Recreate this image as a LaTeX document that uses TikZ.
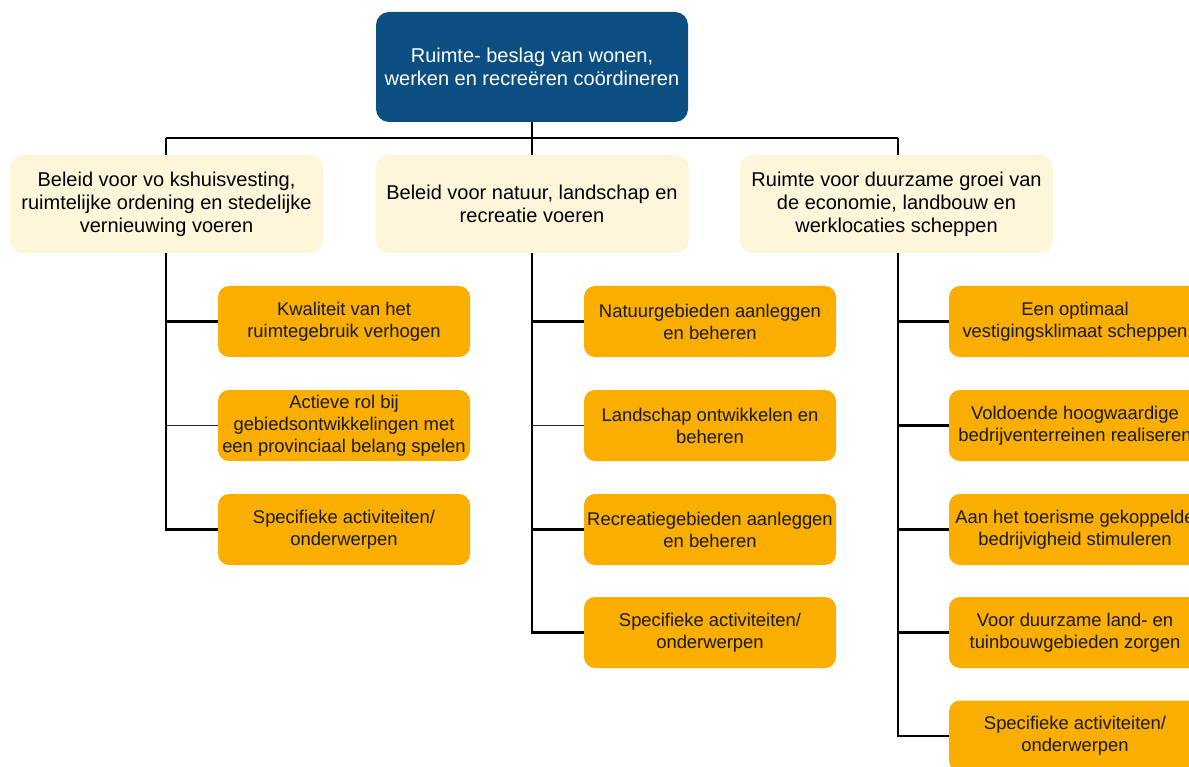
\documentclass[tikz,border=0pt]{standalone}
\usepackage{fontspec}
\setmainfont{Liberation Sans}
\definecolor{topblue}{HTML}{0B4F82}
\definecolor{paleyellow}{HTML}{FEF6DA}
\definecolor{amber}{HTML}{F9AE00}
\definecolor{inktext}{HTML}{1A1A1A}
\tikzset{
  topbox/.style={draw=none, fill=topblue, rounded corners=13pt, minimum width=312pt, minimum height=110pt, align=center, text=white, font=\fontsize{20}{23}\selectfont, inner sep=0pt},
  midbox/.style={draw=none, fill=paleyellow, rounded corners=13pt, minimum width=313pt, minimum height=98pt, align=center, text=black, font=\fontsize{20}{23}\selectfont, inner sep=0pt},
  leafbox/.style={draw=none, fill=amber, rounded corners=11pt, minimum width=252pt, minimum height=71pt, align=center, text=inktext, font=\fontsize{18.4}{22}\selectfont, inner sep=0pt},
  link/.style={draw=black, line width=2.4pt},
  thinlink/.style={draw=black!85, line width=0.9pt}
}
\begin{document}
\begin{tikzpicture}[x=1pt,y=-1pt]
\useasboundingbox[fill=white] (0,0) rectangle (1189,767);

\node[topbox] (top) at (532,67) {Ruimte- beslag van wonen,\\werken en recreëren coördineren};

\node[midbox] (ma) at (166.5,204) {Beleid voor vo kshuisvesting,\\ruimtelijke ordening en stedelijke\\vernieuwing voeren};
\node[midbox] (mb) at (532,204) {Beleid voor natuur, landschap en\\recreatie voeren};
\node[midbox] (mc) at (896.5,204) {Ruimte voor duurzame groei van\\de economie, landbouw en\\werklocaties scheppen};

\coordinate (busL) at (166,138);
\coordinate (busM) at (532,138);
\coordinate (busR) at (898,138);
\coordinate (spA) at (166,253);
\coordinate (spB) at (532,253);
\coordinate (spC) at (898,253);

% column 1
\node[leafbox] (a1) at (344,321.5) {Kwaliteit van het\\ruimtegebruik verhogen};
\node[leafbox] (a2) at (344,425.5) {Actieve rol bij\\gebiedsontwikkelingen met\\een provinciaal belang spelen};
\node[leafbox] (a3) at (344,529.5) {Specifieke activiteiten/\\onderwerpen};

% column 2
\node[leafbox] (b1) at (710,321.5) {Natuurgebieden aanleggen\\en beheren};
\node[leafbox] (b2) at (710,425.5) {Landschap ontwikkelen en\\beheren};
\node[leafbox] (b3) at (710,529.5) {Recreatiegebieden aanleggen\\en beheren};
\node[leafbox] (b4) at (710,632.5) {Specifieke activiteiten/\\onderwerpen};

% column 3
\node[leafbox] (c1) at (1075,321.5) {Een optimaal\\vestigingsklimaat scheppen};
\node[leafbox] (c2) at (1075,425.5) {Voldoende hoogwaardige\\bedrijventerreinen realiseren};
\node[leafbox] (c3) at (1075,529.5) {Aan het toerisme gekoppelde\\bedrijvigheid stimuleren};
\node[leafbox] (c4) at (1075,632.5) {Voor duurzame land- en\\tuinbouwgebieden zorgen};
\node[leafbox] (c5) at (1075,736) {Specifieke activiteiten/\\onderwerpen};

% top connectors
\draw[link] (top.south) -- (busM);
\draw[link] (busL) -- (busR);
\draw[link] (busL) -- (busL |- ma.north);
\draw[link] (busM) -- (mb.north);
\draw[link] (busR) -- (busR |- mc.north);

% spines
\draw[link] (spA) |- (a3.west);
\draw[link] (spB) |- (b4.west);
\draw[link] (spC) |- (c5.west);

% branches
\draw[link] (spA |- a1.west) -- (a1.west);
\draw[thinlink] (spA |- a2.west) -- (a2.west);
\draw[link] (spB |- b1.west) -- (b1.west);
\draw[thinlink] (spB |- b2.west) -- (b2.west);
\draw[link] (spB |- b3.west) -- (b3.west);
\draw[link] (spC |- c1.west) -- (c1.west);
\draw[link] (spC |- c2.west) -- (c2.west);
\draw[link] (spC |- c3.west) -- (c3.west);
\draw[link] (spC |- c4.west) -- (c4.west);
\end{tikzpicture}
\end{document}
